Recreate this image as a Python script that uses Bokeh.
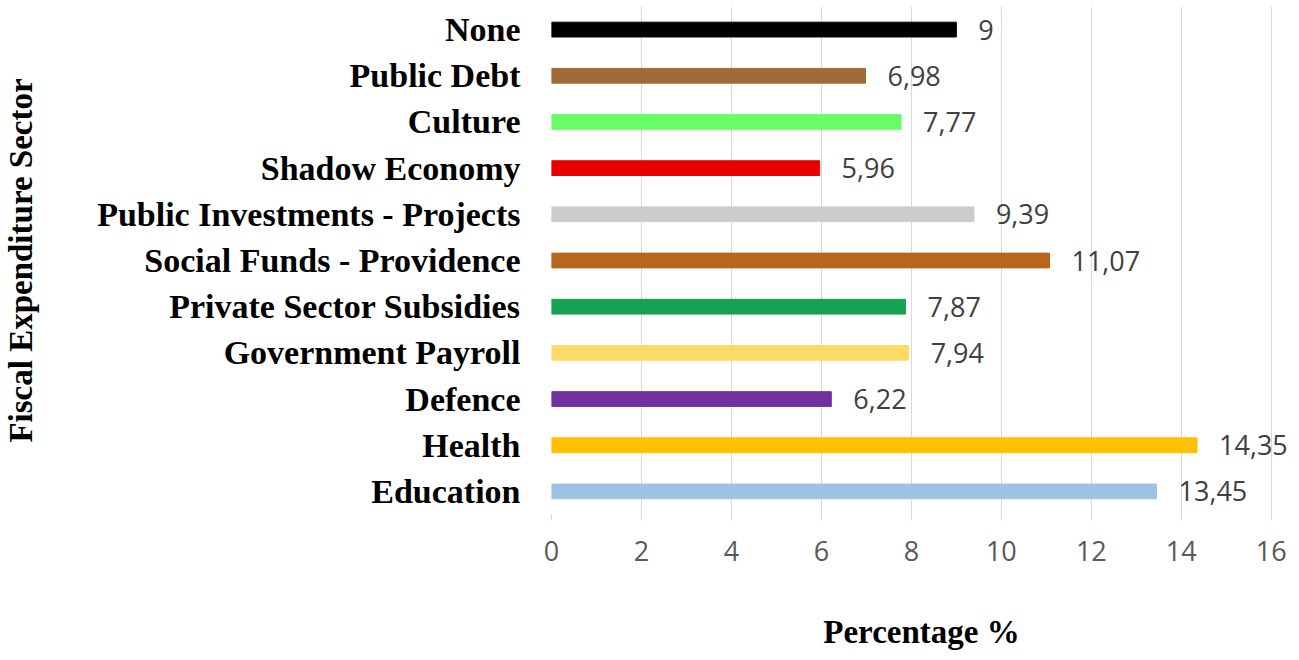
from bokeh.plotting import figure
from bokeh.models import ColumnDataSource, LabelSet, FixedTicker, FactorRange, Range1d
from bokeh.core.properties import value
from bokeh.embed import file_html
from bokeh.resources import INLINE

# Data (bottom to top)
sectors = [
    "Education", "Health", "Defence", "Government Payroll",
    "Private Sector Subsidies", "Social Funds - Providence",
    "Public Investments - Projects", "Shadow Economy", "Culture",
    "Public Debt", "None",
]
percentages = [13.45, 14.35, 6.22, 7.94, 7.87, 11.07, 9.39, 5.96, 7.77, 6.98, 9]
bar_colors = [
    "#9DC3E6", "#FFC000", "#7030A0", "#FFD966", "#17A153", "#B8651E",
    "#CCCCCC", "#E60000", "#66FF66", "#9E6B38", "#000000",
]
x_ticks = [0, 2, 4, 6, 8, 10, 12, 14, 16]

value_labels = [f"{v:g}".replace(".", ",") for v in percentages]

source = ColumnDataSource(data=dict(
    sector=sectors, pct=percentages, color=bar_colors, label=value_labels,
))

p = figure(
    width=1291, height=652,
    y_range=FactorRange(factors=sectors),
    x_range=Range1d(0, 16.45),
    output_backend="svg", toolbar_location=None,
    min_border_left=551, min_border_right=0, min_border_top=6, min_border_bottom=136,
)
p.outline_line_color = None
p.background_fill_color = "white"
p.border_fill_color = "white"

p.hbar(y="sector", right="pct", left=0, height=0.32, color="color", source=source)

labels = LabelSet(
    x="pct", y="sector", text="label", source=source,
    x_offset=22, text_baseline="middle", text_align="left",
    text_font=value("Open Sans"), text_font_size=value("27px"), text_color="#404040",
)
p.add_layout(labels)

# x axis
p.xaxis.ticker = FixedTicker(ticks=x_ticks)
p.xaxis.axis_line_color = None
p.xaxis.major_tick_in = 0
p.xaxis.major_tick_out = 6
p.xaxis.major_tick_line_color = "#D9D9D9"
p.xaxis.minor_tick_line_color = None
p.xaxis.major_label_text_font = "Open Sans"
p.xaxis.major_label_text_font_size = "27px"
p.xaxis.major_label_text_color = "#595959"
p.xaxis.major_label_standoff = 20
p.xaxis.axis_label = "Percentage %"
p.xaxis.axis_label_text_font = "Liberation Serif"
p.xaxis.axis_label_text_font_style = "bold"
p.xaxis.axis_label_text_font_size = "33px"
p.xaxis.axis_label_text_color = "#000000"
p.xaxis.axis_label_standoff = 50

# y axis
p.yaxis.axis_line_color = None
p.yaxis.major_tick_line_color = None
p.yaxis.minor_tick_line_color = None
p.yaxis.major_tick_out = 0
p.yaxis.major_tick_in = 0
p.yaxis.major_label_text_font = "Liberation Serif"
p.yaxis.major_label_text_font_style = "bold"
p.yaxis.major_label_text_font_size = "34px"
p.yaxis.major_label_text_color = "#000000"
p.yaxis.major_label_standoff = 31
p.yaxis.axis_label = "Fiscal Expenditure Sector"
p.yaxis.axis_label_text_font = "Liberation Serif"
p.yaxis.axis_label_text_font_style = "bold"
p.yaxis.axis_label_text_font_size = "33px"
p.yaxis.axis_label_text_color = "#000000"
p.yaxis.axis_label_standoff = 55

# grids
p.xgrid.grid_line_color = "#D9D9D9"
p.xgrid.grid_line_width = 1
p.xgrid.ticker = FixedTicker(ticks=x_ticks)
p.ygrid.grid_line_color = None

open("out.html", "w").write(file_html(p, INLINE))
